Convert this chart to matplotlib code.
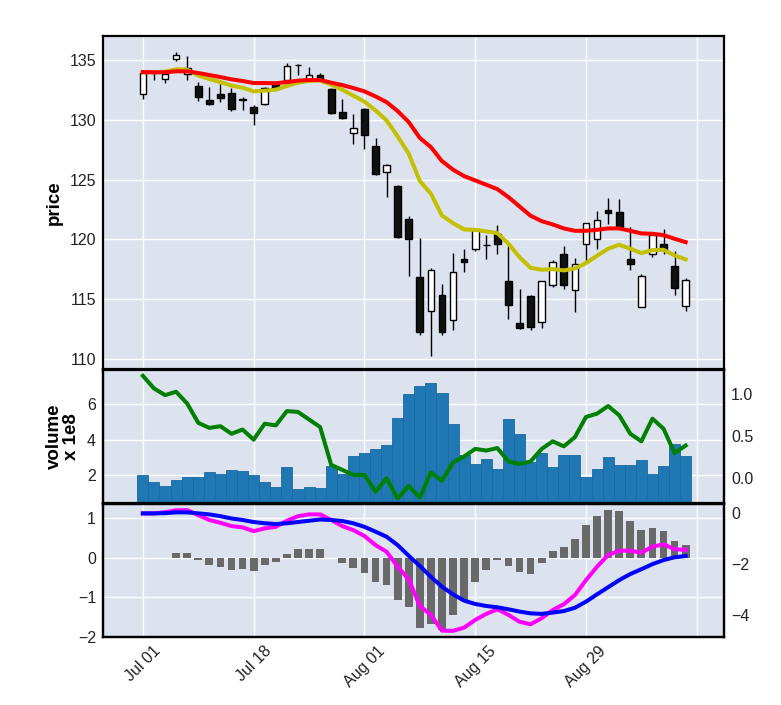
import matplotlib
matplotlib.use("Agg")
import matplotlib.pyplot as plt
import numpy as np

plt.rcParams['font.family'] = ['Liberation Sans', 'DejaVu Sans']

dates = ["Jul 01", "Jul 18", "Aug 01", "Aug 15", "Aug 29", ""]
tick_pos = [0, 10, 20, 30, 40, 50]

opens = [132.15, 133.95, 133.43, 135.14, 133.83, 132.82, 131.71, 132.15, 132.26, 131.75,
         131.09, 131.37, 133.05, 133.38, 134.64, 133.38, 133.74, 132.63, 130.64, 128.94,
         130.89, 127.85, 125.67, 124.44, 121.73, 116.89, 113.99, 115.30, 113.27, 118.38,
         119.22, 119.55, 120.47, 116.48, 112.98, 115.22, 113.06, 116.20, 118.74, 115.72,
         119.58, 120.05, 122.49, 122.28, 118.38, 114.32, 118.74, 119.58, 117.73, 114.41]
highs = [134.05, 134.05, 133.95, 135.70, 135.39, 133.18, 132.76, 133.05, 132.68, 131.92,
         131.23, 132.80, 133.30, 134.77, 134.72, 134.44, 133.97, 132.70, 131.79, 130.53,
         131.00, 128.49, 126.34, 124.58, 122.00, 120.14, 117.62, 116.28, 118.85, 119.22,
         120.80, 120.41, 121.20, 119.69, 115.86, 115.30, 116.50, 118.24, 119.41, 118.46,
         121.40, 122.37, 123.49, 123.41, 121.03, 117.12, 120.50, 120.89, 119.01, 116.78]
lows = [131.79, 133.38, 133.13, 134.92, 133.38, 131.59, 131.30, 131.50, 130.73, 130.81,
        129.61, 131.30, 132.60, 133.30, 133.80, 133.30, 133.30, 130.47, 130.05, 127.96,
        127.54, 125.40, 123.54, 120.10, 116.92, 112.03, 110.27, 111.95, 112.37, 117.31,
        119.01, 118.32, 118.74, 113.35, 112.50, 112.45, 112.59, 116.00, 115.86, 113.90,
        118.09, 119.22, 121.31, 121.00, 117.46, 114.30, 118.51, 118.74, 115.30, 114.04]
closes = [133.97, 134.00, 133.89, 135.42, 134.39, 131.92, 131.37, 131.87, 130.95, 131.70,
          130.62, 132.71, 132.71, 134.50, 134.60, 133.80, 133.38, 130.58, 130.16, 129.36,
          128.77, 125.50, 126.20, 120.19, 120.05, 112.23, 117.46, 112.23, 117.29, 118.09,
          120.75, 119.50, 119.64, 114.52, 112.56, 112.64, 116.48, 118.09, 116.22, 117.96,
          121.36, 121.65, 122.23, 121.03, 117.90, 116.92, 120.33, 119.13, 115.95, 116.64]

fast_line = [134.02, 134.00, 134.05, 134.25, 134.22, 133.74, 133.43, 133.18, 132.88, 132.71,
             132.40, 132.46, 132.54, 132.85, 133.13, 133.27, 133.32, 132.96, 132.54, 132.04,
             131.54, 130.81, 129.97, 128.63, 127.18, 124.90, 123.83, 122.00, 121.36, 120.83,
             120.80, 120.67, 120.52, 119.64, 118.51, 117.62, 117.46, 117.51, 117.40, 117.57,
             118.01, 118.63, 119.22, 119.55, 119.22, 118.85, 119.10, 119.13, 118.65, 118.32]
slow_line = [134.02, 134.00, 134.00, 134.08, 134.08, 133.94, 133.77, 133.60, 133.41, 133.27,
             133.10, 133.10, 133.08, 133.18, 133.30, 133.35, 133.35, 133.13, 132.93, 132.68,
             132.40, 131.98, 131.50, 130.75, 129.83, 128.50, 127.73, 126.56, 125.84, 125.30,
             124.94, 124.58, 124.21, 123.54, 122.76, 121.98, 121.53, 121.25, 120.92, 120.72,
             120.72, 120.80, 120.92, 120.92, 120.72, 120.50, 120.47, 120.36, 120.05, 119.77]

volume = [2.00, 1.66, 1.43, 1.72, 1.94, 1.94, 2.17, 2.06, 2.28, 2.23,
          2.00, 1.66, 1.38, 2.45, 1.26, 1.38, 1.32, 2.51, 2.06, 3.08,
          3.25, 3.47, 3.70, 5.23, 6.58, 7.04, 7.19, 6.62, 4.87, 3.13,
          2.62, 2.94, 2.38, 5.17, 4.32, 2.76, 3.28, 2.45, 3.13, 3.13,
          1.89, 2.38, 3.02, 2.57, 2.57, 2.85, 2.10, 2.51, 3.79, 3.08]
vol_indicator = [1.22, 1.07, 0.99, 1.03, 0.89, 0.66, 0.60, 0.62, 0.53, 0.58,
                 0.46, 0.65, 0.63, 0.80, 0.79, 0.70, 0.61, 0.16, 0.10, 0.04,
                 0.04, -0.16, 0.00, -0.24, -0.09, -0.23, 0.07, -0.03, 0.19, 0.26,
                 0.35, 0.33, 0.36, 0.20, 0.17, 0.20, 0.35, 0.44, 0.38, 0.49,
                 0.73, 0.77, 0.86, 0.75, 0.53, 0.44, 0.71, 0.59, 0.30, 0.39]

histogram = [0.0, 0.0, 0.0, 0.11, 0.11, -0.07, -0.18, -0.23, -0.31, -0.29,
             -0.33, -0.18, -0.11, 0.08, 0.21, 0.23, 0.21, -0.01, -0.13, -0.27,
             -0.38, -0.61, -0.68, -1.06, -1.26, -1.79, -1.67, -1.83, -1.46, -1.08,
             -0.61, -0.31, -0.06, -0.21, -0.36, -0.41, -0.13, 0.18, 0.28, 0.48,
             0.83, 1.06, 1.21, 1.18, 0.93, 0.71, 0.75, 0.68, 0.43, 0.31]
macd = [0.0, 0.0, 0.05, 0.12, 0.13, -0.07, -0.26, -0.37, -0.50, -0.55,
        -0.70, -0.59, -0.53, -0.29, -0.11, -0.04, -0.04, -0.26, -0.50, -0.66,
        -0.89, -1.25, -1.51, -2.10, -2.60, -3.65, -4.00, -4.62, -4.63, -4.50,
        -4.20, -3.96, -3.78, -4.00, -4.27, -4.37, -4.13, -3.81, -3.58, -3.22,
        -2.63, -2.10, -1.64, -1.47, -1.47, -1.55, -1.31, -1.22, -1.41, -1.44]
signal = [0.0, 0.0, 0.01, 0.04, 0.04, 0.0, -0.04, -0.11, -0.20, -0.26,
          -0.34, -0.39, -0.42, -0.39, -0.34, -0.29, -0.24, -0.26, -0.30, -0.39,
          -0.53, -0.72, -0.92, -1.25, -1.67, -2.07, -2.50, -2.89, -3.19, -3.44,
          -3.57, -3.65, -3.70, -3.78, -3.87, -3.94, -3.96, -3.91, -3.85, -3.72,
          -3.48, -3.19, -2.91, -2.63, -2.39, -2.20, -2.00, -1.84, -1.73, -1.68]

BG = '#DCE3EF'
W, H = 781, 705
fig = plt.figure(figsize=(W / 100, H / 100), dpi=100)

def frac(x0, y0, x1, y1):
    return [x0 / W, 1 - y1 / H, (x1 - x0) / W, (y1 - y0) / H]

ax1 = fig.add_axes(frac(103, 36, 724, 369.5))
ax2 = fig.add_axes(frac(103, 369.5, 724, 503.5), sharex=ax1)
ax3 = fig.add_axes(frac(103, 503.5, 724, 636.7), sharex=ax1)

n = len(closes)
x = np.arange(n)

for ax in (ax1, ax2, ax3):
    ax.set_facecolor(BG)
    ax.grid(True, color='white', linewidth=1.0)
    ax.set_axisbelow(True)
    for s in ax.spines.values():
        s.set_color('black')
        s.set_linewidth(1.6)
    ax.tick_params(length=0, labelsize=11.5, pad=5, colors='#222222')

# candles
o = np.array(opens); c = np.array(closes)
up = c >= o
ax1.vlines(x, lows, highs, color='black', linewidth=1.0, zorder=2)
ax1.bar(x[up], (c - o)[up], bottom=o[up], width=0.6, color='white',
        edgecolor='black', linewidth=1.0, zorder=3)
ax1.bar(x[~up], (c - o)[~up], bottom=o[~up], width=0.6, color='#111111',
        edgecolor='black', linewidth=1.0, zorder=3)
ax1.plot(x, fast_line, color='#c4c000', linewidth=2.9, zorder=4)
ax1.plot(x, slow_line, color='red', linewidth=2.9, zorder=4)
ax1.set_ylim(109.1, 137.04)
ax1.set_yticks([110, 115, 120, 125, 130, 135])
ax1.set_ylabel('price', fontsize=13.5, fontweight='bold', labelpad=5)
plt.setp(ax1.get_xticklabels(), visible=False)

# volume
ax2.bar(x, volume, width=1.0, color='#1f77b4', edgecolor='#1b6aa3', linewidth=0.6, zorder=2)
ax2.set_ylim(0.43, 7.94)
ax2.set_yticks([2, 4, 6])
ax2.set_ylabel('volume\nx 1e8', fontsize=13.5, fontweight='bold', labelpad=5,
               multialignment='center', linespacing=1.0)
plt.setp(ax2.get_xticklabels(), visible=False)
ax2r = ax2.twinx()
ax2r.plot(x, vol_indicator, color='green', linewidth=2.9)
ax2r.set_ylim(-0.30, 1.295)
ax2r.set_yticks([0.0, 0.5, 1.0])
ax2r.set_yticklabels(['0.0', '0.5', '1.0'])
ax2r.grid(False)
ax2r.tick_params(length=0, labelsize=11.5, pad=5, colors='#222222')
for s in ax2r.spines.values():
    s.set_color('black'); s.set_linewidth(1.6)

# MACD
ax3.bar(x, histogram, width=0.7, color='dimgray', zorder=2)
ax3.set_ylim(-2.0, 1.37)
ax3.set_yticks([-2, -1, 0, 1])
ax3r = ax3.twinx()
ax3r.plot(x, macd, color='#ff00ff', linewidth=2.9)
ax3r.plot(x, signal, color='blue', linewidth=2.9)
ax3r.set_ylim(-4.86, 0.39)
ax3r.set_yticks([-4, -2, 0])
ax3r.grid(False)
ax3r.tick_params(length=0, labelsize=11.5, pad=5, colors='#222222')
for s in ax3r.spines.values():
    s.set_color('black'); s.set_linewidth(1.6)

ax3.set_xlim(-3.6, 52.46)
ax3.set_xticks(tick_pos)
ax3.set_xticklabels(dates, rotation=45, ha='center')

fig.savefig('out.png', dpi=100, facecolor='white')
